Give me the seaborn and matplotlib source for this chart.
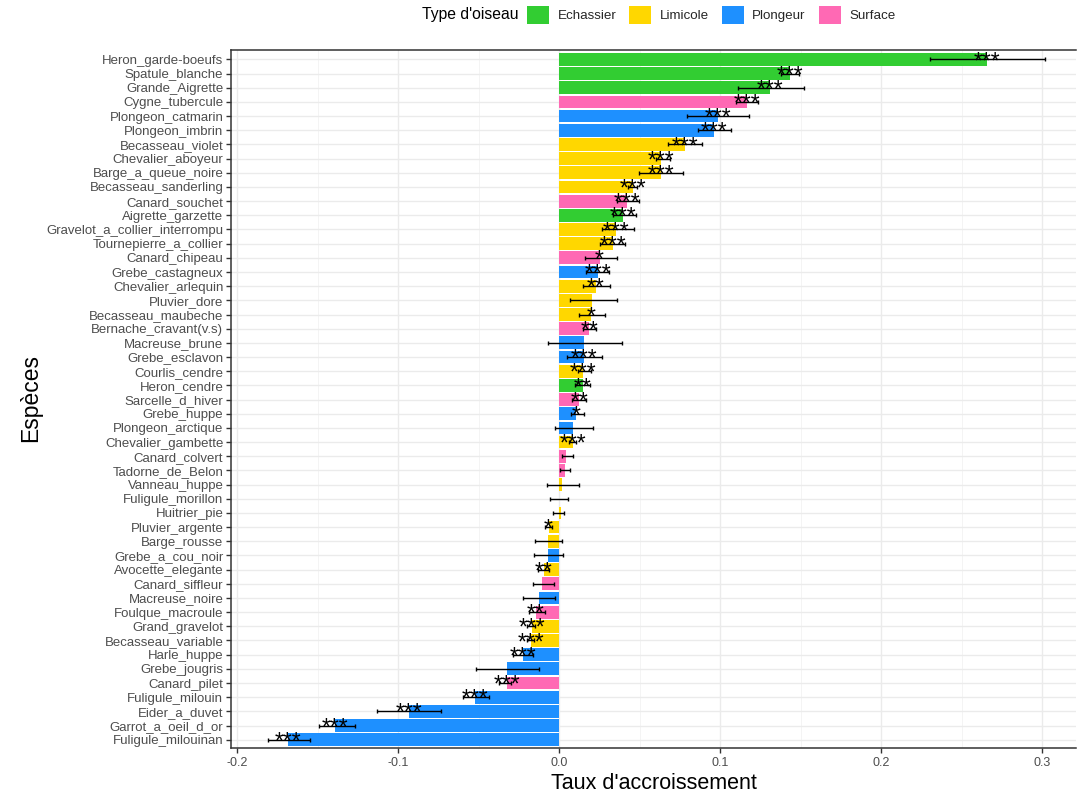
import matplotlib
matplotlib.use("Agg")
import matplotlib.pyplot as plt
from matplotlib.patches import Patch
import seaborn as sns
import pandas as pd
import numpy as np

species = ["Heron_garde-boeufs", "Spatule_blanche", "Grande_Aigrette", "Cygne_tubercule",
           "Plongeon_catmarin", "Plongeon_imbrin", "Becasseau_violet", "Chevalier_aboyeur",
           "Barge_a_queue_noire", "Becasseau_sanderling", "Canard_souchet", "Aigrette_garzette",
           "Gravelot_a_collier_interrompu", "Tournepierre_a_collier", "Canard_chipeau",
           "Grebe_castagneux", "Chevalier_arlequin", "Pluvier_dore", "Becasseau_maubeche",
           "Bernache_cravant(v.s)", "Macreuse_brune", "Grebe_esclavon", "Courlis_cendre",
           "Heron_cendre", "Sarcelle_d_hiver", "Grebe_huppe", "Plongeon_arctique",
           "Chevalier_gambette", "Canard_colvert", "Tadorne_de_Belon", "Vanneau_huppe",
           "Fuligule_morillon", "Huitrier_pie", "Pluvier_argente", "Barge_rousse",
           "Grebe_a_cou_noir", "Avocette_elegante", "Canard_siffleur", "Macreuse_noire",
           "Foulque_macroule", "Grand_gravelot", "Becasseau_variable", "Harle_huppe",
           "Grebe_jougris", "Canard_pilet", "Fuligule_milouin", "Eider_a_duvet",
           "Garrot_a_oeil_d_or", "Fuligule_milouinan"]

bird_type = ["Echassier", "Echassier", "Echassier", "Surface",
             "Plongeur", "Plongeur", "Limicole", "Limicole",
             "Limicole", "Limicole", "Surface", "Echassier",
             "Limicole", "Limicole", "Surface",
             "Plongeur", "Limicole", "Limicole", "Limicole",
             "Surface", "Plongeur", "Plongeur", "Limicole",
             "Echassier", "Surface", "Plongeur", "Plongeur",
             "Limicole", "Surface", "Surface", "Limicole",
             "Plongeur", "Limicole", "Limicole", "Limicole",
             "Plongeur", "Limicole", "Surface", "Plongeur",
             "Surface", "Limicole", "Limicole", "Plongeur",
             "Plongeur", "Surface", "Plongeur", "Plongeur",
             "Plongeur", "Plongeur"]

rate = [0.266, 0.1433, 0.131, 0.1164,
        0.0984, 0.0961, 0.0781, 0.0632,
        0.0632, 0.0455, 0.0418, 0.0398,
        0.0352, 0.0331, 0.0250,
        0.0238, 0.0228, 0.0203, 0.0197,
        0.0186, 0.0155, 0.0151, 0.0145,
        0.0145, 0.0124, 0.0105, 0.0085,
        0.0085, 0.0043, 0.0033, 0.0017,
        -0.0003, 0.0008, -0.0067, -0.0072,
        -0.0072, -0.0096, -0.0110, -0.0128,
        -0.0145, -0.0171, -0.0176, -0.0228,
        -0.0325, -0.0325, -0.0522, -0.0936,
        -0.1391, -0.1683]

err_low = [0.230, 0.1375, 0.111, 0.1097,
           0.0793, 0.0859, 0.0673, 0.0600,
           0.0493, 0.0425, 0.0356, 0.0335,
           0.0265, 0.0255, 0.0157,
           0.0165, 0.0145, 0.0068, 0.0120,
           0.0150, -0.0068, 0.0046, 0.0118,
           0.0097, 0.0080, 0.0072, -0.0027,
           0.0062, 0.0019, 0.0005, -0.0079,
           -0.0060, -0.0037, -0.0090, -0.0151,
           -0.0160, -0.0130, -0.0166, -0.0224,
           -0.0190, -0.0200, -0.0204, -0.0290,
           -0.0518, -0.0373, -0.0600, -0.1135,
           -0.1495, -0.1812]

err_high = [0.302, 0.1490, 0.152, 0.1232,
            0.1178, 0.1066, 0.0884, 0.0689,
            0.0770, 0.0485, 0.0497, 0.0476,
            0.0462, 0.0410, 0.0356,
            0.0310, 0.0315, 0.0358, 0.0284,
            0.0225, 0.0390, 0.0267, 0.0197,
            0.0190, 0.0166, 0.0155, 0.0211,
            0.0105, 0.0083, 0.0066, 0.0120,
            0.0056, 0.0031, -0.0045, 0.0015,
            0.0025, -0.0062, -0.0035, -0.0025,
            -0.0087, -0.0150, -0.0155, -0.0166,
            -0.0124, -0.0300, -0.0435, -0.0735,
            -0.1269, -0.1549]

signif = ["***", "***", "***", "***",
          "***", "***", "***", "***",
          "***", "***", "***", "***",
          "***", "***", "*",
          "***", "**", "", "*",
          "**", "", "***", "***",
          "**", "**", "*", "",
          "***", "", "", "",
          "", "", "*", "",
          "", "**", "", "",
          "**", "***", "***", "***",
          "", "***", "***", "***",
          "***", "***"]

type_order = ["Echassier", "Limicole", "Plongeur", "Surface"]
type_colors = ["#32CD32", "#FFD700", "#1E90FF", "#FF69B4"]
x_ticks = [-0.2, -0.1, 0.0, 0.1, 0.2, 0.3]
x_tick_labels = ["-0.2", "-0.1", "0.0", "0.1", "0.2", "0.3"]

df = pd.DataFrame({"species": species, "type": bird_type, "rate": rate,
                   "lo": err_low, "hi": err_high, "sig": signif})

sns.set_style("white")
plt.rcParams["font.family"] = ["Liberation Sans", "DejaVu Sans"]

fig = plt.figure(figsize=(10.79, 7.92), dpi=100)
ax = fig.add_axes([231 / 1079, 1 - 747.5 / 792, (1076 - 231) / 1079, (747.5 - 49.5) / 792])

palette = dict(zip(type_order, type_colors))
sns.barplot(data=df, x="rate", y="species", hue="type", order=species,
            hue_order=type_order, palette=palette, dodge=False, width=0.9,
            errorbar=None, legend=False, orient="h", ax=ax, saturation=1,
            linewidth=0, zorder=2)

ypos = np.arange(len(species))
ax.errorbar(df["rate"], ypos,
            xerr=[df["rate"] - df["lo"], df["hi"] - df["rate"]],
            fmt="none", ecolor="black", elinewidth=1.0, capsize=1.6,
            capthick=1.0, zorder=3)

for i, row in df.iterrows():
    if row["sig"]:
        ax.text(row["rate"], i + 0.15, row["sig"], ha="center", va="center",
                fontsize=16.5, color="black", zorder=4)

ax.set_xlim(-0.204, 0.321)
ax.set_ylim(len(species) - 0.45, -0.7)
ax.set_xticks(x_ticks)
ax.set_xticklabels(x_tick_labels)
ax.set_xticks([-0.15, -0.05, 0.05, 0.15, 0.25], minor=True)

ax.set_axisbelow(True)
ax.grid(True, which="major", axis="both", color="#EBEBEB", linewidth=1.0, zorder=0)
ax.grid(True, which="minor", axis="x", color="#F2F2F2", linewidth=0.6, zorder=0)

for s in ["left", "bottom", "top"]:
    ax.spines[s].set_visible(True)
    ax.spines[s].set_color("#333333")
    ax.spines[s].set_linewidth(1.1)
ax.spines["right"].set_visible(False)

ax.tick_params(axis="y", which="major", left=True, length=3.5, width=1.0,
               color="#333333", labelsize=9.55, labelcolor="#4D4D4D", pad=2)
ax.tick_params(axis="x", which="major", bottom=True, length=3.5, width=1.0,
               color="#333333", labelsize=9, labelcolor="#4D4D4D", pad=3)
ax.tick_params(axis="x", which="minor", bottom=False)

ax.set_xlabel("Taux d'accroissement", fontsize=15.5, color="black", labelpad=3)
ax.set_ylabel("Espèces", fontsize=16.5, color="black")
ax.yaxis.set_label_coords(-0.223, 0.5)

handles = [Patch(facecolor=c, edgecolor="none") for c in type_colors]
fig.text(518 / 1079, 1 - 15 / 792, "Type d'oiseau", ha="right", va="center",
         fontsize=11.3, color="black")
fig.legend(handles, type_order, loc="center left",
           bbox_to_anchor=(527 / 1079, 1 - 15 / 792), ncol=4, frameon=False,
           fontsize=9.6, handlelength=1.65, handleheight=1.65,
           handletextpad=0.65, columnspacing=0.95, borderpad=0, borderaxespad=0)

fig.savefig("out.png", dpi=100)
